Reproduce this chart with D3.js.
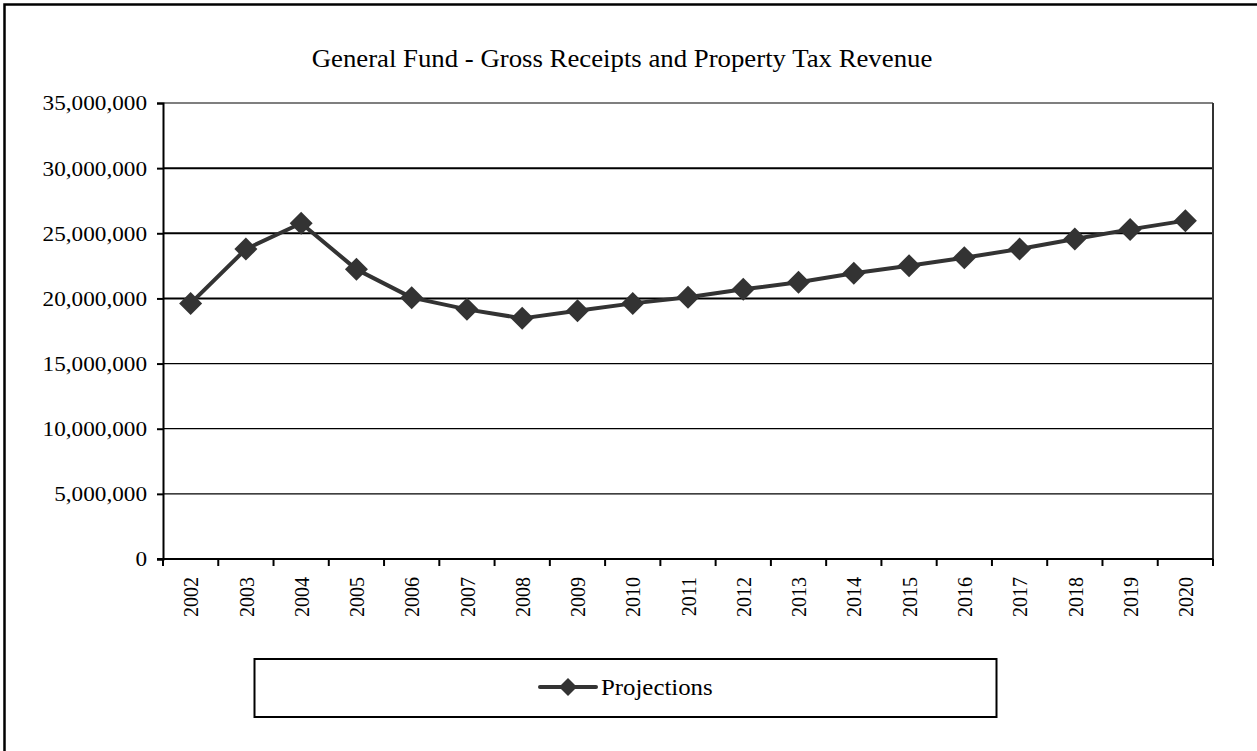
<!DOCTYPE html>
<html>
<head>
<meta charset="utf-8">
<script src="https://cdn.jsdelivr.net/npm/d3@7/dist/d3.min.js"></script>
<style>
  html, body { margin: 0; padding: 0; background: #fff; }
  svg { display: block; }
  text { font-family: "Liberation Serif", "Times New Roman", serif; fill: #000; }
</style>
</head>
<body>
<svg id="chart" width="1257" height="751"></svg>
<script>
// Fiscal years on the category axis
const years = ["2002","2003","2004","2005","2006","2007","2008","2009","2010","2011",
               "2012","2013","2014","2015","2016","2017","2018","2019","2020"];
// Gross receipts + property tax revenue, dollars
const projections = [19620000, 23790000, 25770000, 22230000, 20060000, 19160000, 18470000,
                     19060000, 19620000, 20090000, 20700000, 21240000, 21930000, 22510000,
                     23130000, 23790000, 24560000, 25300000, 25970000];
const yTicks = [0, 5000000, 10000000, 15000000, 20000000, 25000000, 30000000, 35000000];
const seriesName = "Projections";
const title = "General Fund - Gross Receipts and Property Tax Revenue";

const svg = d3.select("#chart");
const plot = { left: 163, right: 1213, top: 103, bottom: 559 };
const ink = "#333333";
const serif = "'Liberation Serif', 'Times New Roman', serif";
const sx = 1.08; // glyphs are set slightly wide

// outer chart frame (runs off the right and bottom edges)
svg.append("rect")
  .attr("x", 4.5).attr("y", 4.5)
  .attr("width", 1300).attr("height", 800)
  .attr("fill", "none").attr("stroke", "#000").attr("stroke-width", 2.5);

const x = d3.scaleBand().domain(years).range([plot.left, plot.right]).padding(0);
const y = d3.scaleLinear().domain([0, 35000000]).range([plot.bottom, plot.top]);

// horizontal gridlines
svg.append("g")
  .selectAll("line")
  .data(yTicks.filter(v => v > 0))
  .join("line")
  .attr("x1", plot.left).attr("x2", plot.right)
  .attr("y1", d => y(d)).attr("y2", d => y(d))
  .attr("stroke", "#000")
  .attr("stroke-width", d => (d >= 20000000 && d <= 30000000) ? 2 : 1.2);

// right edge of the plot area
svg.append("line")
  .attr("x1", plot.right).attr("x2", plot.right)
  .attr("y1", plot.top).attr("y2", plot.bottom + 7)
  .attr("stroke", ink).attr("stroke-width", 2);

// value axis
const yAxis = svg.append("g")
  .attr("transform", `translate(${plot.left},0)`)
  .call(d3.axisLeft(y).tickValues(yTicks).tickSize(6).tickPadding(10)
          .tickFormat(d3.format(",")));
yAxis.attr("font-family", serif);
yAxis.select(".domain").attr("stroke", "#000").attr("stroke-width", 2);
yAxis.selectAll(".tick line").attr("stroke", "#000").attr("stroke-width", 2);
yAxis.selectAll(".tick text")
  .attr("font-family", serif)
  .attr("font-size", 21.5).attr("fill", "#000")
  .attr("x", -16 / sx)
  .attr("transform", `scale(${sx},1)`);

// category axis: ticks sit on the boundaries between years
const xAxisG = svg.append("g").attr("transform", `translate(0,${plot.bottom})`);
xAxisG.append("line")
  .attr("x1", plot.left - 6).attr("x2", plot.right)
  .attr("stroke", "#000").attr("stroke-width", 2);
const bounds = years.map(d => x(d)).concat([x(years[years.length - 1]) + x.bandwidth()]);
xAxisG.selectAll("line.tick")
  .data(bounds)
  .join("line").attr("class", "tick")
  .attr("x1", d => d).attr("x2", d => d)
  .attr("y1", 0).attr("y2", 7)
  .attr("stroke", "#000").attr("stroke-width", 2);
xAxisG.selectAll("text")
  .data(years)
  .join("text")
  .attr("transform", d => `translate(${x(d) + x.bandwidth() / 2},18) rotate(-90) scale(1,1.1)`)
  .attr("text-anchor", "end")
  .attr("dy", "0.35em")
  .attr("font-family", serif)
  .attr("font-size", 20)
  .text(d => d);

// series line with diamond markers
const cx = d => x(d) + x.bandwidth() / 2;
const line = d3.line().x((d, i) => cx(years[i])).y(d => y(d));
svg.append("path")
  .datum(projections)
  .attr("d", line)
  .attr("fill", "none")
  .attr("stroke", ink)
  .attr("stroke-width", 4)
  .attr("stroke-linejoin", "round");

const diamond = (px, py, r) => `M${px},${py - r}L${px + r},${py}L${px},${py + r}L${px - r},${py}Z`;
svg.append("g")
  .selectAll("path")
  .data(projections)
  .join("path")
  .attr("d", (d, i) => diamond(cx(years[i]), y(d), 11.5))
  .attr("fill", ink);

// title
svg.append("text")
  .attr("transform", `scale(${sx},1)`)
  .attr("x", 622 / sx).attr("y", 67)
  .attr("text-anchor", "middle")
  .attr("font-family", serif)
  .attr("font-size", 24.8)
  .text(title);

// legend
const lg = svg.append("g");
lg.append("rect")
  .attr("x", 254.5).attr("y", 659)
  .attr("width", 742).attr("height", 58)
  .attr("fill", "#fff").attr("stroke", "#000").attr("stroke-width", 2);
lg.append("line")
  .attr("x1", 540).attr("x2", 596).attr("y1", 687).attr("y2", 687)
  .attr("stroke", ink).attr("stroke-width", 4).attr("stroke-linecap", "round");
lg.append("path").attr("d", diamond(568, 687, 9)).attr("fill", ink);
lg.append("text")
  .attr("transform", `scale(${sx},1)`)
  .attr("x", 601 / sx).attr("y", 687).attr("dy", "0.35em")
  .attr("font-family", serif)
  .attr("font-size", 23)
  .text(seriesName);
</script>
</body>
</html>
